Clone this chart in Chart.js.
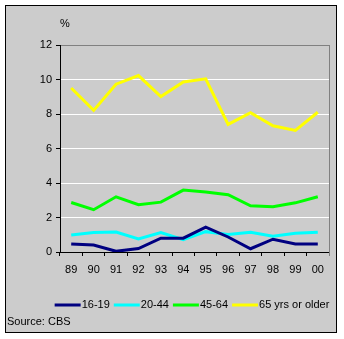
<!DOCTYPE html>
<html>
<head>
<meta charset="utf-8">
<script src="https://cdn.jsdelivr.net/npm/chart.js@4/dist/chart.umd.min.js"></script>
<style>
  html, body { margin: 0; padding: 0; background: #ffffff; }
  #wrap { position: relative; width: 344px; height: 339px; }
</style>
</head>
<body>
<div id="wrap"><canvas id="c" width="344" height="339"></canvas></div>
<script>
// ---- data ----
const years = ['89', '90', '91', '92', '93', '94', '95', '96', '97', '98', '99', '00'];
const age16to19 = [0.47, 0.4, 0.04, 0.2, 0.8, 0.8, 1.44, 0.87, 0.19, 0.74, 0.47, 0.47];
const age20to44 = [0.99, 1.13, 1.16, 0.76, 1.13, 0.72, 1.18, 1.01, 1.15, 0.91, 1.09, 1.15];
const age45to64 = [2.87, 2.45, 3.2, 2.74, 2.89, 3.59, 3.48, 3.32, 2.68, 2.62, 2.85, 3.2];
const age65plus = [9.51, 8.21, 9.73, 10.23, 9.01, 9.86, 10.04, 7.4, 8.08, 7.32, 7.05, 8.1];
const seriesNames = ['16-19', '20-44', '45-64', '65 yrs or older'];
const yTicks = [0, 2, 4, 6, 8, 10, 12];
const unitLabel = '%';
const sourceText = 'Source: CBS';

const FONT = "'Liberation Sans', Arial, sans-serif";

const framePlugin = {
  id: 'frame',
  beforeDraw(chart) {
    const ctx = chart.ctx;
    ctx.save();
    ctx.fillStyle = '#ffffff';
    ctx.fillRect(0, 0, chart.width, chart.height);
    ctx.fillStyle = '#cccccc';
    ctx.fillRect(5, 5, 332, 328);
    ctx.strokeStyle = '#000000';
    ctx.lineWidth = 1;
    ctx.strokeRect(5.5, 5.5, 331, 327);
    ctx.restore();
  },
  beforeDatasetsDraw(chart) {
    const ctx = chart.ctx;
    const a = chart.chartArea;
    ctx.save();
    ctx.strokeStyle = '#808080';
    ctx.lineWidth = 1;
    ctx.beginPath();
    ctx.moveTo(Math.round(a.right) + 0.5, a.top);
    ctx.lineTo(Math.round(a.right) + 0.5, a.bottom + 4);
    ctx.stroke();
    ctx.restore();
  },
  afterDraw(chart) {
    const ctx = chart.ctx;
    const a = chart.chartArea;
    ctx.save();
    ctx.fillStyle = '#000000';
    ctx.font = '11px ' + FONT;
    ctx.textBaseline = 'middle';
    ctx.textAlign = 'left';
    ctx.fillText(unitLabel, a.left, 24);
    ctx.fillText(sourceText, 7, 322);

    // legend
    const lineW = 26, gapText = 1, gapItem = 4;
    const items = chart.data.datasets.map(d => ({
      label: d.label, color: d.borderColor, w: ctx.measureText(d.label).width
    }));
    let total = 0;
    items.forEach((it, i) => { total += lineW + gapText + it.w + (i ? gapItem : 0); });
    let x = 192 - total / 2;
    const y = 305;
    items.forEach((it, i) => {
      if (i) x += gapItem;
      ctx.strokeStyle = it.color;
      ctx.lineWidth = 3;
      ctx.beginPath();
      ctx.moveTo(x, y);
      ctx.lineTo(x + lineW, y);
      ctx.stroke();
      x += lineW + gapText;
      ctx.fillStyle = '#000000';
      ctx.fillText(it.label, x, y);
      x += it.w;
    });
    ctx.restore();
  }
};

const mk = (label, data, color) => ({
  label, data, borderColor: color, backgroundColor: color,
  borderWidth: 3, pointRadius: 0, pointHoverRadius: 0, tension: 0, fill: false
});

new Chart(document.getElementById('c'), {
  type: 'line',
  data: {
    labels: years,
    datasets: [
      mk(seriesNames[0], age16to19, '#000080'),
      mk(seriesNames[1], age20to44, '#00ffff'),
      mk(seriesNames[2], age45to64, '#00ff00'),
      mk(seriesNames[3], age65plus, '#ffff00')
    ]
  },
  options: {
    responsive: false,
    animation: false,
    devicePixelRatio: 1,
    layout: { padding: { top: 45, left: 0, right: 15, bottom: 57 } },
    plugins: { legend: { display: false }, tooltip: { enabled: false }, title: { display: false } },
    scales: {
      x: {
        type: 'category',
        offset: true,
        afterFit(s) { s.height = 30; },
        grid: { offset: true, drawOnChartArea: false, drawTicks: true, tickLength: 4, tickColor: '#000000' },
        border: { color: '#000000', width: 1 },
        ticks: { color: '#000000', font: { family: FONT, size: 11 }, padding: 7, maxRotation: 0, autoSkip: false }
      },
      y: {
        min: 0, max: 12,
        afterFit(s) { s.width = 60; },
        afterBuildTicks(s) { s.ticks = yTicks.map(v => ({ value: v })); },
        grid: {
          color: c => (c.tick && c.tick.value === 12) ? '#808080' : '#ffffff',
          lineWidth: 1, drawTicks: true, tickLength: 4, tickColor: '#000000'
        },
        border: { color: '#000000', width: 1 },
        ticks: { color: '#000000', font: { family: FONT, size: 11 }, padding: 4, stepSize: 2 }
      }
    }
  },
  plugins: [framePlugin]
});
</script>
</body>
</html>
